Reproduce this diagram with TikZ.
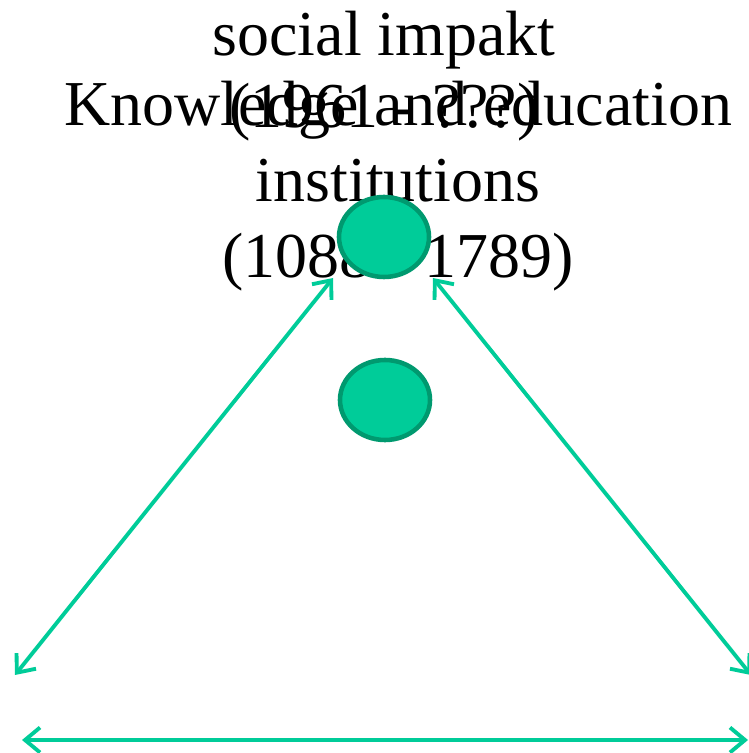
\documentclass[tikz,border=0pt]{standalone}
\usepackage{fontspec}
\setmainfont{Liberation Serif}
\usepackage{tikz}
\usetikzlibrary{arrows.meta,positioning,shapes.geometric}
\definecolor{ArrGreen}{HTML}{00CC99}
\definecolor{DotFill}{HTML}{00CC99}
\definecolor{DotRim}{HTML}{00996F}
\begin{document}
\begin{tikzpicture}[
  bigtext/.style={font=\fontsize{36.4}{43.5}\selectfont, align=center, inner sep=0pt, anchor=base},
  dot/.style={ellipse, fill=DotFill, draw=DotRim, line width=2.6pt, minimum width=1.8cm, minimum height=1.6cm, inner sep=0pt},
  link/.style={ArrGreen, line width=2.2pt, line cap=round, {Straight Barb[length=0.3cm,width=0.5cm]}-{Straight Barb[length=0.3cm,width=0.5cm]}}
]
  \useasboundingbox (0,0) rectangle (14.98,15.06);
  \clip (0,0) rectangle (14.98,15.06);
  \node[bigtext, font=\fontsize{36.4}{41.5}\selectfont] (social) at (7.68,12.50) {social impakt\\(1961 - ???)};
  \node[bigtext] (knowledge) at (7.96,9.50) {Knowledge and education\\institutions\\(1088 - 1789)};
  \node[dot] (topdot) at (7.68,10.32) {};
  \node[dot] (middot) at (7.70,7.06) {};
  \coordinate (leftUp) at (6.66,9.50);
  \coordinate (leftDown) at (0.30,1.56);
  \coordinate (rightUp) at (8.66,9.50);
  \coordinate (rightDown) at (15.02,1.56);
  \coordinate (baseL) at (0.44,0.26);
  \coordinate (baseR) at (14.96,0.26);
  \draw[link] (leftUp) -- (leftDown);
  \draw[link] (rightUp) -- (rightDown);
  \draw[link] (baseL) -- (baseR);
\end{tikzpicture}
\end{document}
